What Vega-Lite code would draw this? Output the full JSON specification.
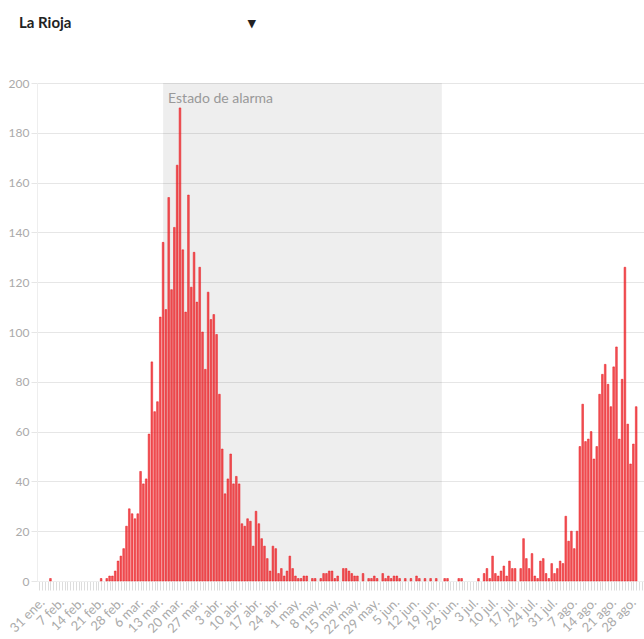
{
  "$schema": "https://vega.github.io/schema/vega-lite/v6.json",
  "width": 607,
  "height": 498,
  "autosize": {"type": "none"},
  "padding": {"left": 37, "top": 83, "right": 0, "bottom": 58},
  "background": "white",
  "title": {"text": "La Rioja\u2003\u2003\u2003\u2003\u2003\u2003\u2003\u2003\u2003\u2003\u2003\u2003\u2003\u2003\u2003\u2002▾", "anchor": "start", "frame": "group", "dx": -18, "offset": 34, "baseline": "alphabetic", "font": "Lato", "fontSize": 15, "fontWeight": "bold", "color": "#222"},
  "config": {"view": {"stroke": null}, "font": "Lato"},
  "datasets": {
    "alarma": [{"inicio": "2020-03-14", "fin": "2020-06-21", "etiqueta": "Estado de alarma"}],
    "casos": [
      {"fecha": "2020-02-03", "casos": 1},
      {"fecha": "2020-02-21", "casos": 1},
      {"fecha": "2020-02-23", "casos": 1},
      {"fecha": "2020-02-24", "casos": 2},
      {"fecha": "2020-02-25", "casos": 2},
      {"fecha": "2020-02-26", "casos": 4},
      {"fecha": "2020-02-27", "casos": 8},
      {"fecha": "2020-02-28", "casos": 10},
      {"fecha": "2020-02-29", "casos": 13},
      {"fecha": "2020-03-01", "casos": 22},
      {"fecha": "2020-03-02", "casos": 29},
      {"fecha": "2020-03-03", "casos": 27},
      {"fecha": "2020-03-04", "casos": 25},
      {"fecha": "2020-03-05", "casos": 27},
      {"fecha": "2020-03-06", "casos": 44},
      {"fecha": "2020-03-07", "casos": 39},
      {"fecha": "2020-03-08", "casos": 41},
      {"fecha": "2020-03-09", "casos": 59},
      {"fecha": "2020-03-10", "casos": 88},
      {"fecha": "2020-03-11", "casos": 68},
      {"fecha": "2020-03-12", "casos": 72},
      {"fecha": "2020-03-13", "casos": 106},
      {"fecha": "2020-03-14", "casos": 136},
      {"fecha": "2020-03-15", "casos": 109},
      {"fecha": "2020-03-16", "casos": 154},
      {"fecha": "2020-03-17", "casos": 117},
      {"fecha": "2020-03-18", "casos": 142},
      {"fecha": "2020-03-19", "casos": 167},
      {"fecha": "2020-03-20", "casos": 190},
      {"fecha": "2020-03-21", "casos": 133},
      {"fecha": "2020-03-22", "casos": 108},
      {"fecha": "2020-03-23", "casos": 155},
      {"fecha": "2020-03-24", "casos": 118},
      {"fecha": "2020-03-25", "casos": 132},
      {"fecha": "2020-03-26", "casos": 112},
      {"fecha": "2020-03-27", "casos": 126},
      {"fecha": "2020-03-28", "casos": 100},
      {"fecha": "2020-03-29", "casos": 85},
      {"fecha": "2020-03-30", "casos": 116},
      {"fecha": "2020-03-31", "casos": 105},
      {"fecha": "2020-04-01", "casos": 107},
      {"fecha": "2020-04-02", "casos": 99},
      {"fecha": "2020-04-03", "casos": 75},
      {"fecha": "2020-04-04", "casos": 53},
      {"fecha": "2020-04-05", "casos": 35},
      {"fecha": "2020-04-06", "casos": 41},
      {"fecha": "2020-04-07", "casos": 51},
      {"fecha": "2020-04-08", "casos": 39},
      {"fecha": "2020-04-09", "casos": 42},
      {"fecha": "2020-04-10", "casos": 39},
      {"fecha": "2020-04-11", "casos": 23},
      {"fecha": "2020-04-12", "casos": 22},
      {"fecha": "2020-04-13", "casos": 25},
      {"fecha": "2020-04-14", "casos": 24},
      {"fecha": "2020-04-15", "casos": 14},
      {"fecha": "2020-04-16", "casos": 28},
      {"fecha": "2020-04-17", "casos": 23},
      {"fecha": "2020-04-18", "casos": 17},
      {"fecha": "2020-04-19", "casos": 14},
      {"fecha": "2020-04-20", "casos": 9},
      {"fecha": "2020-04-21", "casos": 4},
      {"fecha": "2020-04-22", "casos": 14},
      {"fecha": "2020-04-23", "casos": 13},
      {"fecha": "2020-04-24", "casos": 3},
      {"fecha": "2020-04-25", "casos": 5},
      {"fecha": "2020-04-26", "casos": 2},
      {"fecha": "2020-04-27", "casos": 4},
      {"fecha": "2020-04-28", "casos": 10},
      {"fecha": "2020-04-29", "casos": 5},
      {"fecha": "2020-04-30", "casos": 2},
      {"fecha": "2020-05-01", "casos": 1},
      {"fecha": "2020-05-02", "casos": 1},
      {"fecha": "2020-05-03", "casos": 2},
      {"fecha": "2020-05-04", "casos": 2},
      {"fecha": "2020-05-06", "casos": 1},
      {"fecha": "2020-05-07", "casos": 1},
      {"fecha": "2020-05-09", "casos": 1},
      {"fecha": "2020-05-10", "casos": 3},
      {"fecha": "2020-05-11", "casos": 3},
      {"fecha": "2020-05-12", "casos": 4},
      {"fecha": "2020-05-13", "casos": 4},
      {"fecha": "2020-05-14", "casos": 1},
      {"fecha": "2020-05-15", "casos": 2},
      {"fecha": "2020-05-17", "casos": 5},
      {"fecha": "2020-05-18", "casos": 5},
      {"fecha": "2020-05-19", "casos": 4},
      {"fecha": "2020-05-20", "casos": 3},
      {"fecha": "2020-05-21", "casos": 2},
      {"fecha": "2020-05-22", "casos": 2},
      {"fecha": "2020-05-24", "casos": 3},
      {"fecha": "2020-05-26", "casos": 1},
      {"fecha": "2020-05-27", "casos": 1},
      {"fecha": "2020-05-28", "casos": 2},
      {"fecha": "2020-05-29", "casos": 1},
      {"fecha": "2020-05-31", "casos": 3},
      {"fecha": "2020-06-01", "casos": 1},
      {"fecha": "2020-06-02", "casos": 2},
      {"fecha": "2020-06-03", "casos": 1},
      {"fecha": "2020-06-04", "casos": 2},
      {"fecha": "2020-06-05", "casos": 2},
      {"fecha": "2020-06-06", "casos": 1},
      {"fecha": "2020-06-08", "casos": 1},
      {"fecha": "2020-06-10", "casos": 1},
      {"fecha": "2020-06-12", "casos": 2},
      {"fecha": "2020-06-13", "casos": 1},
      {"fecha": "2020-06-15", "casos": 1},
      {"fecha": "2020-06-17", "casos": 1},
      {"fecha": "2020-06-19", "casos": 1},
      {"fecha": "2020-06-22", "casos": 1},
      {"fecha": "2020-06-23", "casos": 1},
      {"fecha": "2020-06-27", "casos": 1},
      {"fecha": "2020-06-28", "casos": 1},
      {"fecha": "2020-07-04", "casos": 1},
      {"fecha": "2020-07-06", "casos": 3},
      {"fecha": "2020-07-07", "casos": 5},
      {"fecha": "2020-07-08", "casos": 1},
      {"fecha": "2020-07-09", "casos": 10},
      {"fecha": "2020-07-10", "casos": 3},
      {"fecha": "2020-07-11", "casos": 2},
      {"fecha": "2020-07-12", "casos": 4},
      {"fecha": "2020-07-13", "casos": 6},
      {"fecha": "2020-07-14", "casos": 2},
      {"fecha": "2020-07-15", "casos": 8},
      {"fecha": "2020-07-16", "casos": 5},
      {"fecha": "2020-07-17", "casos": 5},
      {"fecha": "2020-07-19", "casos": 5},
      {"fecha": "2020-07-20", "casos": 17},
      {"fecha": "2020-07-21", "casos": 9},
      {"fecha": "2020-07-22", "casos": 5},
      {"fecha": "2020-07-23", "casos": 11},
      {"fecha": "2020-07-24", "casos": 2},
      {"fecha": "2020-07-25", "casos": 1},
      {"fecha": "2020-07-26", "casos": 8},
      {"fecha": "2020-07-27", "casos": 9},
      {"fecha": "2020-07-28", "casos": 3},
      {"fecha": "2020-07-29", "casos": 1},
      {"fecha": "2020-07-30", "casos": 7},
      {"fecha": "2020-07-31", "casos": 3},
      {"fecha": "2020-08-01", "casos": 5},
      {"fecha": "2020-08-02", "casos": 8},
      {"fecha": "2020-08-03", "casos": 7},
      {"fecha": "2020-08-04", "casos": 26},
      {"fecha": "2020-08-05", "casos": 16},
      {"fecha": "2020-08-06", "casos": 20},
      {"fecha": "2020-08-07", "casos": 13},
      {"fecha": "2020-08-08", "casos": 20},
      {"fecha": "2020-08-09", "casos": 54},
      {"fecha": "2020-08-10", "casos": 71},
      {"fecha": "2020-08-11", "casos": 56},
      {"fecha": "2020-08-12", "casos": 57},
      {"fecha": "2020-08-13", "casos": 60},
      {"fecha": "2020-08-14", "casos": 49},
      {"fecha": "2020-08-15", "casos": 54},
      {"fecha": "2020-08-16", "casos": 75},
      {"fecha": "2020-08-17", "casos": 83},
      {"fecha": "2020-08-18", "casos": 87},
      {"fecha": "2020-08-19", "casos": 79},
      {"fecha": "2020-08-20", "casos": 70},
      {"fecha": "2020-08-21", "casos": 86},
      {"fecha": "2020-08-22", "casos": 94},
      {"fecha": "2020-08-23", "casos": 57},
      {"fecha": "2020-08-24", "casos": 81},
      {"fecha": "2020-08-25", "casos": 126},
      {"fecha": "2020-08-26", "casos": 63},
      {"fecha": "2020-08-27", "casos": 47},
      {"fecha": "2020-08-28", "casos": 55},
      {"fecha": "2020-08-29", "casos": 70}
    ]
  },
  "layer": [
    {
      "data": {"name": "alarma"},
      "mark": {"type": "rect", "color": "#000000", "opacity": 0.065},
      "encoding": {
        "x": {
          "field": "inicio", "type": "temporal",
          "scale": {"type": "utc", "domain": [{"year": 2020, "month": 1, "date": 31, "utc": true}, {"year": 2020, "month": 8, "date": 30, "utc": true}]},
          "axis": {
            "title": null, "grid": false,
            "tickCount": {"interval": "day", "step": 1},
            "tickColor": "#dddddd", "tickSize": 9,
            "domainColor": "#eeeeee",
            "labelAngle": -45, "labelAlign": "right", "labelBaseline": "middle",
            "labelColor": "#aaaaaa", "labelFontSize": 13, "labelFont": "Lato",
            "labelOverlap": false, "labelFlush": false, "labelPadding": 10, "labelOffset": 0,
            "labelExpr": "utcday(datum.value) == 5 ? utcdate(datum.value) + ' ' + ['ene.','feb.','mar.','abr.','may.','jun.','jul.','ago.','sep.','oct.','nov.','dic.'][utcmonth(datum.value)] : ''"
          }
        },
        "x2": {"field": "fin"}
      }
    },
    {
      "data": {"name": "alarma"},
      "mark": {"type": "text", "align": "left", "baseline": "top", "dx": 5, "dy": 9, "color": "#999999", "fontSize": 14, "font": "Lato"},
      "encoding": {
        "x": {"field": "inicio", "type": "temporal"},
        "y": {"datum": 200, "type": "quantitative"},
        "text": {"field": "etiqueta"}
      }
    },
    {
      "data": {"name": "casos"},
      "mark": {"type": "bar", "size": 1.7, "fill": "#ee2a2f", "fillOpacity": 0.8, "stroke": "#e8141b", "strokeWidth": 0.5},
      "encoding": {
        "x": {"field": "fecha", "type": "temporal"},
        "y": {
          "field": "casos", "type": "quantitative",
          "scale": {"domain": [0, 200]},
          "axis": {
            "title": null, "tickCount": 10, "grid": true, "gridColor": "#e6e6e6",
            "domainColor": "#eeeeee", "tickColor": "#e6e6e6", "tickSize": 6,
            "labelColor": "#aaaaaa", "labelFontSize": 12, "labelFont": "Lato", "labelPadding": 2
          }
        }
      }
    }
  ]
}
